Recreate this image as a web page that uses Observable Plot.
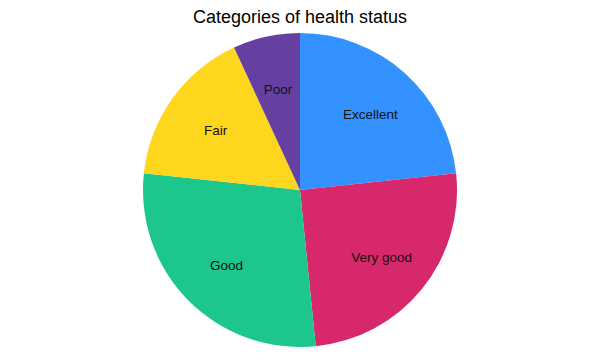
<!DOCTYPE html>
<html>
<head>
<meta charset="utf-8">
<script src="https://cdn.jsdelivr.net/npm/d3@7"></script>
<script src="https://cdn.jsdelivr.net/npm/@observablehq/plot@0.6"></script>
<style>
  html, body { margin: 0; padding: 0; background: #fff; }
  #chart { width: 600px; font-family: "Liberation Sans", Arial, sans-serif; }
  .title { height: 30px; line-height: 34px; text-align: center; font-size: 18px; color: #000; }
</style>
</head>
<body>
<div id="chart"><div class="title">Categories of health status</div></div>
<script>
const categories = ["Excellent", "Very good", "Good", "Fair", "Poor"];
const values = [23.3, 25.1, 28.3, 16.4, 6.9];
const colors = ["#3392ff", "#d7286b", "#1dc68d", "#ffd61e", "#6640a0"];

const R = 157;
const pie = d3.pie().sort(null).value(d => d.value);
const arcs = pie(categories.map((c, i) => ({category: c, value: values[i]})));
const labelR = 0.665 * R;
const labels = arcs.map(a => {
  const m = (a.startAngle + a.endAngle) / 2;
  return {category: a.data.category, x: Math.sin(m) * labelR, y: Math.cos(m) * labelR};
});
const color = Plot.scale({color: {domain: categories, range: colors}});

const slices = (index, scales) => {
  const cx = scales.x(0), cy = scales.y(0);
  const r = scales.x(R) - scales.x(0);
  const arc = d3.arc().innerRadius(0).outerRadius(r);
  const g = d3.create("svg:g").attr("transform", `translate(${cx},${cy})`);
  g.selectAll("path").data(arcs).join("path")
    .attr("d", arc)
    .attr("fill", d => color.apply(d.data.category));
  return g.node();
};

const plot = Plot.plot({
  width: 600,
  height: 330,
  margin: 0,
  x: {domain: [-300, 300], axis: null},
  y: {domain: [-170, 160], axis: null},
  style: {fontFamily: "Liberation Sans, Arial, sans-serif", background: "#fff"},
  marks: [
    slices,
    Plot.text(labels, {x: "x", y: "y", text: "category", fontSize: 13.5, fill: "#111", dy: 1.5})
  ]
});
document.getElementById("chart").appendChild(plot);
</script>
</body>
</html>
